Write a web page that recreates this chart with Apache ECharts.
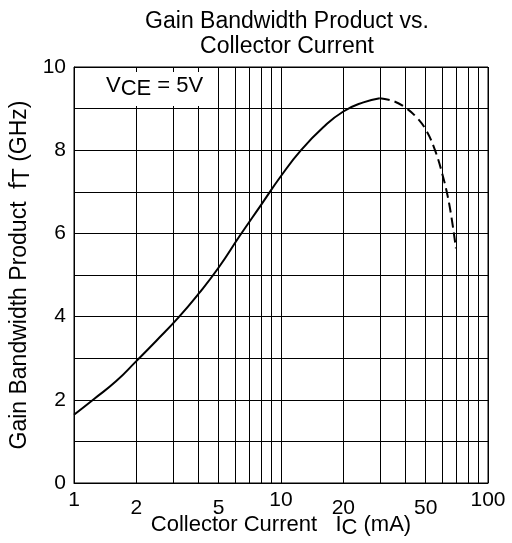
<!DOCTYPE html>
<html>
<head>
<meta charset="utf-8">
<script src="https://cdn.jsdelivr.net/npm/echarts@6/dist/echarts.min.js"></script>
<style>
  html, body { margin: 0; padding: 0; background: #fff; }
  #chart { width: 512px; height: 543px; }
</style>
</head>
<body>
<div id="chart"></div>
<script>
// collector current (mA) vs fT (GHz)
const solidCurrent = [1, 1.25, 1.6, 2, 2.5, 3.2, 4, 5, 6.3, 8, 10, 12.5, 16, 20, 25, 30];
const solidFt = [1.64, 2.02, 2.45, 2.93, 3.42, 3.98, 4.55, 5.18, 5.93, 6.68, 7.38, 8.0, 8.55, 8.93, 9.15, 9.25];
const dashCurrent = [30, 35, 40, 45, 50, 55, 60, 65, 70];
const dashFt = [9.25, 9.18, 9.02, 8.8, 8.5, 8.05, 7.45, 6.7, 5.64];

const xGridValues = [1, 2, 3, 4, 5, 6, 7, 8, 9, 10, 20, 30, 40, 50, 60, 70, 80, 90, 100];
const xLabelValues = [1, 2, 5, 10, 20, 50, 100];

const FONT = 'Liberation Sans';

const chart = echarts.init(document.getElementById('chart'));

const pairs = (xs, ys) => xs.map((x, i) => [x, ys[i]]);

const option = {
  animation: false,
  textStyle: {fontFamily: FONT, color: '#000'},
  title: {
    text: 'Gain Bandwidth Product vs.\nCollector Current',
    left: 282,
    textAlign: 'center',
    top: 4,
    textStyle: {fontFamily: FONT, fontSize: 23, fontWeight: 'normal', color: '#000', lineHeight: 25}
  },
  grid: {
    left: 74,
    right: 24,
    top: 67,
    bottom: 60,
    outerBoundsMode: 'none',
    show: true,
    borderColor: '#000',
    borderWidth: 1
  },
  xAxis: {
    type: 'log',
    logBase: 10,
    min: 1,
    max: 100,
    name: 'Collector Current   I{s|C} (mA)',
    nameLocation: 'middle',
    nameGap: 28,
    nameMoveOverlap: false,
    nameTextStyle: {
      fontFamily: FONT, fontSize: 22, color: '#000',
      rich: {s: {fontFamily: FONT, fontSize: 22, color: '#000', padding: [6, 0, 0, 0]}}
    },
    axisLine: {lineStyle: {color: '#000', width: 1}},
    axisTick: {show: false, customValues: xGridValues},
    splitLine: {show: true, lineStyle: {color: '#000', width: 1}},
    axisLabel: {
      customValues: xLabelValues,
      margin: 7,
      fontFamily: FONT,
      fontSize: 21,
      color: '#000',
      formatter: v => (v === 1 || v === 10 || v === 100) ? '{d|' + v + '}' : '{n|' + v + '}',
      rich: {
        d: {fontFamily: FONT, fontSize: 21, color: '#000'},
        n: {fontFamily: FONT, fontSize: 21, color: '#000', padding: [8, 0, 0, 0]}
      }
    }
  },
  yAxis: {
    type: 'value',
    min: 0,
    max: 10,
    interval: 1,
    name: 'Gain Bandwidth Product  f{s|T} (GHz)',
    nameLocation: 'middle',
    nameGap: 40,
    nameMoveOverlap: false,
    nameTextStyle: {
      fontFamily: FONT, fontSize: 23, color: '#000',
      rich: {s: {fontFamily: FONT, fontSize: 23, color: '#000', padding: [6, 0, 0, 0]}}
    },
    axisLine: {show: true, lineStyle: {color: '#000', width: 1}},
    axisTick: {show: false},
    splitLine: {show: true, lineStyle: {color: '#000', width: 1}},
    axisLabel: {
      margin: 8,
      fontFamily: FONT,
      fontSize: 21,
      color: '#000',
      formatter: v => (v % 2 === 0 ? String(v) : '')
    }
  },
  graphic: [
    {
      type: 'rect',
      left: 100,
      top: 72,
      shape: {width: 110, height: 34},
      style: {fill: '#fff'},
      z: 50
    },
    {
      type: 'text',
      left: 106,
      top: 75,
      z: 51,
      style: {
        text: '{v|V}{s|CE}{v| = 5V}',
        rich: {
          v: {fontFamily: FONT, fontSize: 22, fill: '#000'},
          s: {fontFamily: FONT, fontSize: 22, fill: '#000', padding: [5, 0, 0, 0]}
        }
      }
    }
  ],
  series: [
    {
      type: 'line',
      data: pairs(solidCurrent, solidFt),
      smooth: 0.5,
      showSymbol: false,
      lineStyle: {color: '#000', width: 2},
      z: 60
    },
    {
      type: 'line',
      data: pairs(dashCurrent, dashFt),
      smooth: 0.4,
      showSymbol: false,
      lineStyle: {color: '#000', width: 2, type: [10, 5]},
      z: 60
    }
  ]
};

chart.setOption(option);
</script>
</body>
</html>
